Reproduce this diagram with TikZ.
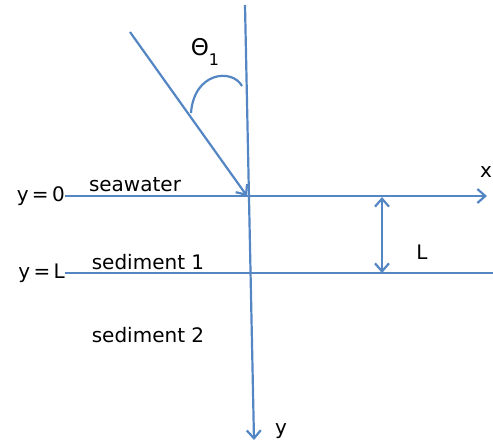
\documentclass[tikz,border=0pt]{standalone}
\usepackage{fontspec}
\setmainfont{DejaVu Sans}
\usetikzlibrary{arrows.meta,positioning,calc}
\definecolor{axisblue}{RGB}{84,134,196}

\begin{document}
\begin{tikzpicture}[x=1pt,y=-1pt,>={Straight Barb[length=8pt,width=14pt]},
    line/.style={axisblue,line width=2.2pt},
    lbl/.style={inner sep=1pt,font=\fontsize{20}{22}\selectfont}]
    \useasboundingbox (0,0) rectangle (493,445);

    % axes
    \coordinate (ztop) at (245,5);
    \coordinate (zbot) at (254,440);
    \coordinate (x0) at (65,196);
    \coordinate (x1) at (487,196);
    \coordinate (l0) at (65,273);
    \coordinate (l1) at (493,273);
    \draw[line,->] (ztop) -- (zbot);
    \draw[line,->] (x0) -- (x1);
    \draw[line] (l0) -- (l1);

    % incident ray
    \coordinate (src) at (130,32);
    \coordinate (hit) at (247,196);
    \draw[line,->] (src) -- (hit);
    \coordinate (a0) at (191,113);
    \coordinate (a1) at (242,86);
    \draw[line] (a0) .. controls (194,72) and (232,68) .. (a1);
    \node[lbl,font=\fontsize{23}{25}\selectfont] (theta) at (205,52)
        {Θ\raisebox{-0.4em}{\fontsize{16}{16}\selectfont 1}};

    % layer thickness
    \coordinate (d0) at (382,197);
    \coordinate (d1) at (382,273);
    \draw[line,<->] (d0) -- (d1);
    \node[lbl] (thick) at (422,252) {L};

    % labels
    \node[lbl,left,inner sep=0pt] (yzero) at (x0) {y\,=\,0};
    \node[lbl,left,inner sep=0pt] (yel) at (l0) {y\,=\,L};
    \node[lbl] (xlab) at (486,172) {x};
    \node[lbl] (ylab) at (281,431) {y};
    \node[lbl] (sea) at (135,185) {seawater};
    \node[lbl] (sed1) at (148,262) {sediment 1};
    \node[lbl] (sed2) at (148,335) {sediment 2};
\end{tikzpicture}
\end{document}
